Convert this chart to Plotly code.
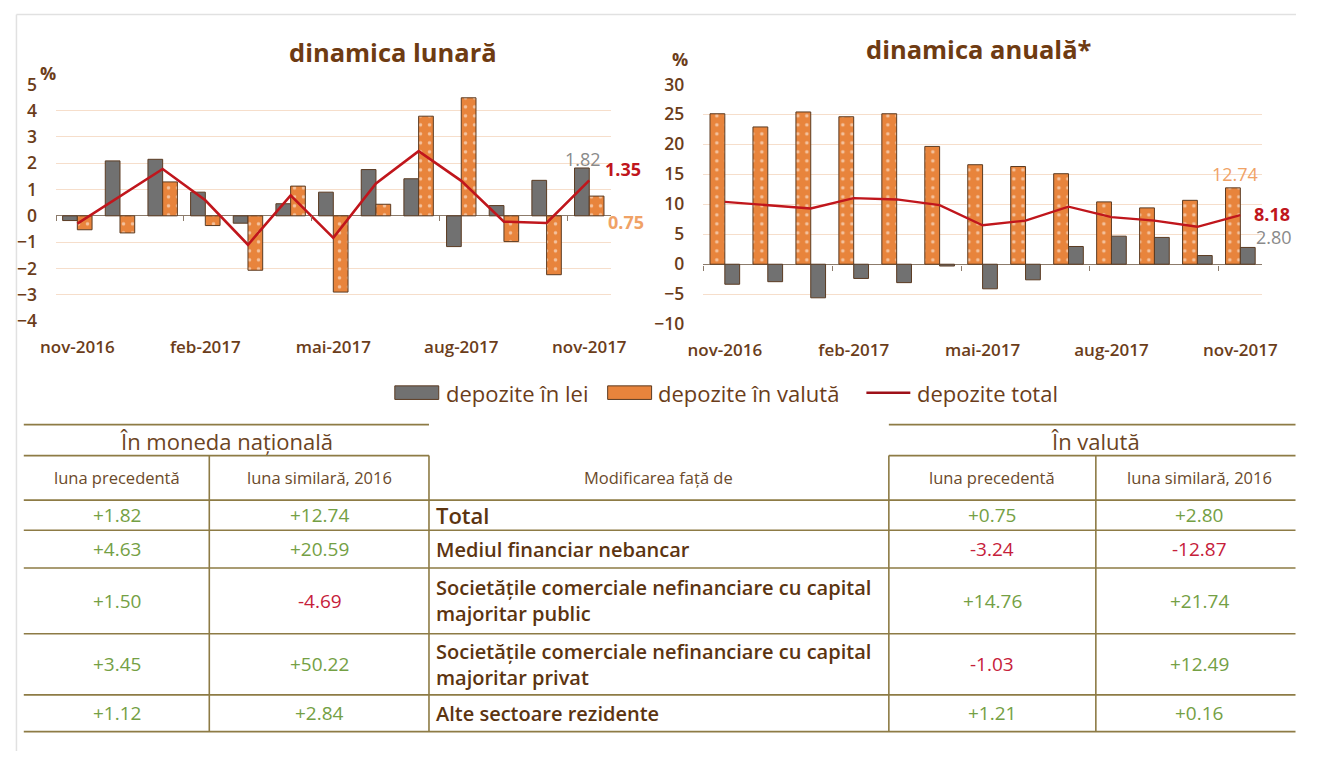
import plotly.graph_objects as go

# The page body keeps its default 8px margin, so the figure is sized to fill the
# 1328x778 window exactly (1312x762 + 2*8) and window pixels are mapped below.
WIN_W, WIN_H = 1328, 778
OFF = 8
W, H = WIN_W - 2 * OFF, WIN_H - 2 * OFF

# ---------------- data ----------------
months = ["nov-2016", "dec-2016", "ian-2017", "feb-2017", "mar-2017", "apr-2017", "mai-2017",
          "iun-2017", "iul-2017", "aug-2017", "sep-2017", "oct-2017", "nov-2017"]
tick_months = ["nov-2016", "feb-2017", "mai-2017", "aug-2017", "nov-2017"]

lunar_lei = [-0.18, 2.09, 2.15, 0.90, -0.28, 0.46, 0.90, 1.76, 1.41, -1.17, 0.39, 1.35, 1.82]
lunar_valuta = [-0.53, -0.65, 1.29, -0.37, -2.07, 1.13, -2.90, 0.44, 3.79, 4.49, -0.98, -2.24, 0.75]
lunar_total = [-0.30, 0.74, 1.78, 0.59, -1.10, 0.78, -0.84, 1.23, 2.46, 1.33, -0.22, -0.27, 1.35]

anual_lei = [-3.34, -2.91, -5.60, -2.37, -3.07, -0.30, -4.10, -2.60, 2.96, 4.68, 4.47, 1.45, 2.80]
anual_valuta = [25.1, 22.9, 25.4, 24.6, 25.1, 19.65, 16.6, 16.3, 15.1, 10.4, 9.4, 10.66, 12.74]
anual_total = [10.4, 9.85, 9.3, 11.04, 10.8, 9.85, 6.5, 7.27, 9.6, 7.86, 7.27, 6.25, 8.18]

legend_names = ["depozite în lei", "depozite în valută", "depozite total"]

row_labels = ["Total",
              "Mediul financiar nebancar",
              "Societățile comerciale nefinanciare cu capital<br>majoritar public",
              "Societățile comerciale nefinanciare cu capital<br>majoritar privat",
              "Alte sectoare rezidente"]
nat_prec = ["+1.82", "+4.63", "+1.50", "+3.45", "+1.12"]
nat_sim = ["+12.74", "+20.59", "-4.69", "+50.22", "+2.84"]
val_prec = ["+0.75", "-3.24", "+14.76", "-1.03", "+1.21"]
val_sim = ["+2.80", "-12.87", "+21.74", "+12.49", "+0.16"]

# ---------------- style ----------------
FONT = "Open Sans"
BROWN = "#6b3d1a"
TITLE_BROWN = "#6e3b12"
GRAY = "#717171"
ORANGE = "#e8843c"
RED = "#c0161c"
EDGE = "#5b3b22"
GRID = "#f6decb"
ZERO = "#8c7b6b"
GREEN = "#74a044"
NEG = "#c6203a"
TBL = "#8d7b45"


def X(px):
    return (px - OFF) / W


def Y(py):
    return 1 - (py - OFF) / H


pattern = dict(shape=".", fgcolor="white", bgcolor=ORANGE, size=9, solidity=0.12)

fig = go.Figure()

# left chart
fig.add_trace(go.Bar(x=months, y=lunar_lei, name=legend_names[0],
                     marker=dict(color=GRAY, line=dict(color=EDGE, width=1)), xaxis="x", yaxis="y"))
fig.add_trace(go.Bar(x=months, y=lunar_valuta, name=legend_names[1],
                     marker=dict(color=ORANGE, pattern=pattern, line=dict(color=EDGE, width=1)),
                     xaxis="x", yaxis="y"))
fig.add_trace(go.Scatter(x=months, y=lunar_total, name=legend_names[2], mode="lines",
                         line=dict(color=RED, width=2.6), xaxis="x", yaxis="y"))

# right chart (orange bar left of grey)
fig.add_trace(go.Bar(x=months, y=anual_valuta, name=legend_names[1],
                     marker=dict(color=ORANGE, pattern=pattern, line=dict(color=EDGE, width=1)),
                     xaxis="x2", yaxis="y2"))
fig.add_trace(go.Bar(x=months, y=anual_lei, name=legend_names[0],
                     marker=dict(color=GRAY, line=dict(color=EDGE, width=1)), xaxis="x2", yaxis="y2"))
fig.add_trace(go.Scatter(x=months, y=anual_total, name=legend_names[2], mode="lines",
                         line=dict(color=RED, width=2.3), xaxis="x2", yaxis="y2"))

# helper traces for tick marks on zero line
fig.add_trace(go.Scatter(x=[None], y=[None], xaxis="x3", yaxis="y", hoverinfo="skip"))
fig.add_trace(go.Scatter(x=[None], y=[None], xaxis="x4", yaxis="y2", hoverinfo="skip"))

n = len(months)
boundary_ticks = [i - 0.5 for i in range(0, n, 3)]

tickfont = dict(family=FONT, size=17, color=BROWN, weight=600)

xcommon = dict(type="category", categoryorder="array", categoryarray=months, tickvals=tick_months,
               ticks="", showgrid=False, showline=False, zeroline=False, tickfont=tickfont,
               ticklabelstandoff=14, range=[-0.5, n - 0.5])
ycommon = dict(showgrid=True, gridcolor=GRID, gridwidth=1, zeroline=True, zerolinecolor=ZERO, zerolinewidth=1.2,
               showline=False, ticks="", tickfont=dict(family=FONT, size=17.5, color=BROWN, weight=600),
               ticklabelstandoff=18)

fig.update_layout(
    width=W, height=H, autosize=False,
    margin=dict(l=0, r=0, t=0, b=0),
    paper_bgcolor="white", plot_bgcolor="white",
    font=dict(family=FONT, color=BROWN),
    barmode="group", bargap=0.31, bargroupgap=0,
    showlegend=False,
    xaxis=dict(domain=[X(50), X(618)], anchor="y", **xcommon),
    yaxis=dict(domain=[Y(326), Y(81.7)], range=[-4, 5], dtick=1, anchor="x", **ycommon),
    xaxis2=dict(domain=[X(713), X(1285)], anchor="y2", **xcommon),
    yaxis2=dict(domain=[Y(329.3), Y(81.7)], range=[-10, 30], dtick=5, anchor="x2", **ycommon),
    xaxis3=dict(overlaying="x", anchor="free", position=Y(216.7), type="linear", range=[-0.5, n - 0.5],
                tickvals=boundary_ticks, ticks="outside", ticklen=5, tickcolor=ZERO, showticklabels=False,
                showgrid=False, zeroline=False, showline=False),
    xaxis4=dict(overlaying="x2", anchor="free", position=Y(267.7), type="linear", range=[-0.5, n - 0.5],
                tickvals=boundary_ticks, ticks="outside", ticklen=5, tickcolor=ZERO, showticklabels=False,
                showgrid=False, zeroline=False, showline=False),
)

ann = []


def ptext(text, px, py, size, color, xanchor="center", yanchor="middle", weight="normal", align="center"):
    ann.append(dict(text=text, x=X(px), y=Y(py), xref="paper", yref="paper", showarrow=False,
                    xanchor=xanchor, yanchor=yanchor, align=align,
                    font=dict(family=FONT, size=size, color=color, weight=weight)))


# titles
ptext("dinamica lunară", 395, 48, 25.5, TITLE_BROWN, weight="bold")
ptext("dinamica anuală*", 995, 45, 25.5, TITLE_BROWN, weight="bold")
ptext("%", 42, 70, 18, BROWN, weight="bold")
ptext("%", 689, 56, 18, BROWN, weight="bold")


# data labels (last month)
def dlabel(text, xref, yref, yval, color, xanchor, xshift, yshift, weight="normal"):
    ann.append(dict(text=text, x=months[-1], y=yval, xref=xref, yref=yref, showarrow=False,
                    xanchor=xanchor, yanchor="middle", xshift=xshift, yshift=yshift,
                    font=dict(family=FONT, size=18, color=color, weight=weight)))


dlabel(f"{lunar_lei[-1]:.2f}", "x", "y", lunar_lei[-1], "#8a8a8a", "center", -6, 9)
dlabel(f"{lunar_total[-1]:.2f}", "x", "y", lunar_total[-1], RED, "left", 14, 11, weight="bold")
dlabel(f"{lunar_valuta[-1]:.2f}", "x", "y", lunar_valuta[-1], "#f0a266", "left", 17, -26, weight="bold")
dlabel(f"{anual_valuta[-1]:.2f}", "x2", "y2", anual_valuta[-1], "#f0a266", "center", -5, 14)
dlabel(f"{anual_total[-1]:.2f}", "x2", "y2", anual_total[-1], RED, "left", 12, 1, weight="bold")
dlabel(f"{anual_lei[-1]:.2f}", "x2", "y2", anual_lei[-1], "#8a8a8a", "left", 14, 10)

shapes = []
# outer light frame (top and left edges only, kept inside the figure)
shapes.append(dict(type="line", xref="paper", yref="paper", x0=X(9.5), x1=1, y0=Y(9.5), y1=Y(9.5),
                   line=dict(color="#e1e1e1", width=1.5), layer="below"))
shapes.append(dict(type="line", xref="paper", yref="paper", x0=X(9.5), x1=X(9.5), y0=0, y1=Y(9.5),
                   line=dict(color="#e1e1e1", width=1.5), layer="below"))

# ---------------- custom legend ----------------
LEG_Y = 400
shapes.append(dict(type="rect", xref="paper", yref="paper", x0=X(397), x1=X(442), y0=Y(407), y1=Y(393),
                   fillcolor=GRAY, line=dict(color=EDGE, width=1)))
shapes.append(dict(type="rect", xref="paper", yref="paper", x0=X(615), x1=X(660), y0=Y(407), y1=Y(393),
                   fillcolor=ORANGE, line=dict(color=EDGE, width=1)))
shapes.append(dict(type="line", xref="paper", yref="paper", x0=X(880), x1=X(925), y0=Y(LEG_Y), y1=Y(LEG_Y),
                   line=dict(color="#9e1018", width=2.5)))
for i, lx in enumerate([447, 665, 930]):
    ptext(legend_names[i], lx, LEG_Y, 22, BROWN, xanchor="left")

# ---------------- table (drawn with shapes + annotations) ----------------
col_edges = [17, 207, 432, 903, 1115, 1319.5]
row_edges = [433, 465, 511, 542, 581, 649, 712, 750]


def hline(py, x0, x1):
    shapes.append(dict(type="line", xref="paper", yref="paper", x0=X(x0), x1=X(x1), y0=Y(py), y1=Y(py),
                       line=dict(color=TBL, width=1.6)))


def vline(px, y0, y1):
    shapes.append(dict(type="line", xref="paper", yref="paper", x0=X(px), x1=X(px), y0=Y(y0), y1=Y(y1),
                       line=dict(color=TBL, width=1.6)))


for py in row_edges[:2]:
    hline(py, col_edges[0], col_edges[2])
    hline(py, col_edges[3], col_edges[5])
for py in row_edges[2:]:
    hline(py, col_edges[0], col_edges[5])
for px in col_edges[1:5]:
    vline(px, row_edges[1], row_edges[-1])

fig.update_layout(shapes=shapes)


def mid(a, b):
    return (a + b) / 2


head_y = mid(row_edges[0], row_edges[1])
ptext("În moneda națională", mid(col_edges[0], col_edges[2]), head_y + 1, 22, "#6b4423")
ptext("În valută", 1115, head_y + 1, 22, "#6b4423")
sub_y = mid(row_edges[1], row_edges[2])
sub_heads = ["luna precedentă", "luna similară, 2016", "Modificarea față de", "luna precedentă", "luna similară, 2016"]
sub_centers = [112, 320, 667, 1009, 1221]
for t, cx in zip(sub_heads, sub_centers):
    ptext(t, cx, sub_y, 16.5, "#6b4a2a")

val_centers = [112, 320, 1009, 1221]
for r in range(len(row_labels)):
    cy = mid(row_edges[r + 2], row_edges[r + 3])
    for cx, col in zip(val_centers, [nat_prec, nat_sim, val_prec, val_sim]):
        v = col[r]
        ptext(v, cx, cy, 19, NEG if v.startswith("-") else GREEN)
    size = 22 if r == 0 else 20
    ptext(row_labels[r], col_edges[2] + 5, cy, size, "#5c3410", xanchor="left", weight=600, align="left")

fig.update_layout(annotations=ann)

fig.write_html("out.html")
